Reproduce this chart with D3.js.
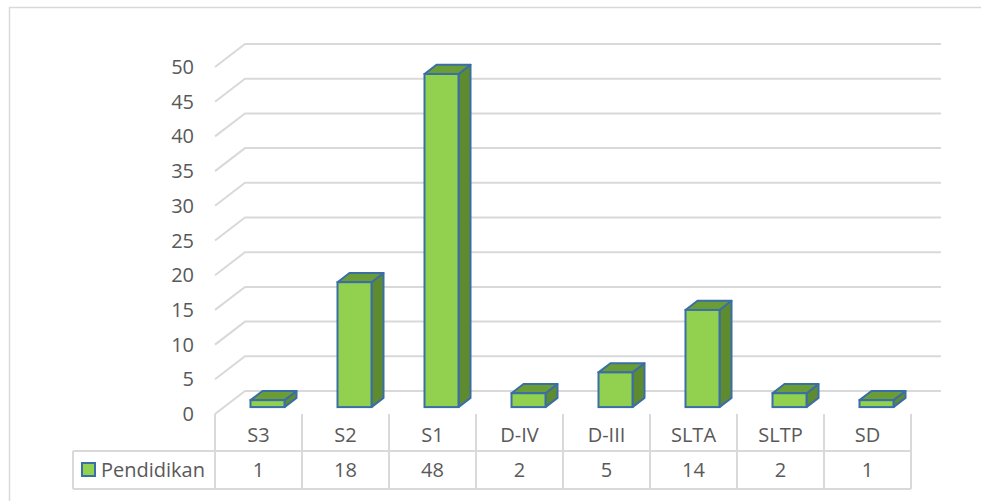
<!DOCTYPE html>
<html>
<head>
<meta charset="utf-8">
<script src="https://cdn.jsdelivr.net/npm/d3@7"></script>
<style>
  body { margin: 0; background: #ffffff; }
  text { font-family: "Open Sans", "Noto Sans", sans-serif; fill: #595959; }
</style>
</head>
<body>
<div id="chart"></div>
<script>
// data
var categories = ["S3", "S2", "S1", "D-IV", "D-III", "SLTA", "SLTP", "SD"];
var values = [1, 18, 48, 2, 5, 14, 2, 1];
var seriesName = "Pendidikan";
var yTicks = [0, 5, 10, 15, 20, 25, 30, 35, 40, 45, 50];

var vizWidth = 981,
    vizHeight = 501;

// plot area (front plane) and 3d depth vector
var plot = {left: 215, right: 911, top: 67, bottom: 414},
    depth = {dx: 30, dy: -23},
    barFront = 0.3,
    barBack = 0.7,
    barWidth = 34;

var colorFront = "#92d050",
    colorSide = "#5f8b30",
    colorTop = "#6b9d37",
    colorEdge = "#3a6ea5",
    colorGrid = "#d9d9d9";

var viz = d3.select(document.getElementById('chart')).append("svg")
    .attr("width", vizWidth)
    .attr("height", vizHeight);

// chart border
viz.append("rect")
    .attr("x", 9.5)
    .attr("y", 7.5)
    .attr("width", 990)
    .attr("height", 510)
    .attr("fill", "none")
    .attr("stroke", colorGrid)
    .attr("stroke-width", 1.5);

var x = d3.scaleBand().domain(categories).range([plot.left, plot.right]);
var y = d3.scaleLinear().domain([0, 50]).range([plot.bottom, plot.top]);

function px(xv, t) { return xv + depth.dx * t; }
function py(yv, t) { return yv + depth.dy * t; }

// gridlines: side diagonal + back wall
var grid = viz.append("g").attr("class", "grid");
yTicks.forEach(function(v) {
  grid.append("path")
      .attr("d", "M" + plot.left + "," + y(v) +
                 "L" + px(plot.left, 1) + "," + py(y(v), 1) +
                 "L" + px(plot.right, 1) + "," + py(y(v), 1))
      .attr("fill", "none")
      .attr("stroke", colorGrid)
      .attr("stroke-width", 2);
});

// y labels
viz.selectAll("text.ytick")
    .data(yTicks)
    .enter()
    .append("text")
    .attr("class", "ytick")
    .attr("x", 194)
    .attr("y", function(d) { return y(d); })
    .attr("dy", "0.35em")
    .attr("text-anchor", "end")
    .style("font-size", "20px")
    .text(function(d) { return d; });

// bars
var bars = viz.selectAll("g.bar")
    .data(categories.map(function(c, i) { return {cat: c, val: values[i]}; }))
    .enter()
    .append("g")
    .attr("class", "bar");

function barGeom(d) {
  var x0 = x(d.cat) + x.bandwidth() / 2 - barWidth / 2,
      x1 = x0 + barWidth,
      y0 = y(0),
      y1 = y(d.val);
  return {
    fl: px(x0, barFront), fr: px(x1, barFront),
    bl: px(x0, barBack), br: px(x1, barBack),
    fb: py(y0, barFront), ft: py(y1, barFront),
    bb: py(y0, barBack), bt: py(y1, barBack)
  };
}

bars.append("path")
    .attr("d", function(d) {
      var g = barGeom(d);
      return "M" + g.fr + "," + g.fb + "L" + g.br + "," + g.bb +
             "L" + g.br + "," + g.bt + "L" + g.fr + "," + g.ft + "Z";
    })
    .attr("fill", colorSide)
    .attr("stroke", colorEdge)
    .attr("stroke-width", 2)
    .attr("stroke-linejoin", "round");

bars.append("path")
    .attr("d", function(d) {
      var g = barGeom(d);
      return "M" + g.fl + "," + g.ft + "L" + g.bl + "," + g.bt +
             "L" + g.br + "," + g.bt + "L" + g.fr + "," + g.ft + "Z";
    })
    .attr("fill", colorTop)
    .attr("stroke", colorEdge)
    .attr("stroke-width", 2)
    .attr("stroke-linejoin", "round");

bars.append("rect")
    .attr("x", function(d) { return barGeom(d).fl; })
    .attr("y", function(d) { return barGeom(d).ft; })
    .attr("width", barWidth)
    .attr("height", function(d) { var g = barGeom(d); return g.fb - g.ft; })
    .attr("fill", colorFront)
    .attr("stroke", colorEdge)
    .attr("stroke-width", 2);

// data table under the plot
var row1 = plot.bottom,
    row2 = 451,
    row3 = 489,
    legendLeft = 73;

var table = viz.append("g").attr("class", "table")
    .attr("stroke", colorGrid)
    .attr("stroke-width", 2);

table.append("line")
    .attr("x1", legendLeft).attr("x2", plot.right)
    .attr("y1", row2).attr("y2", row2);
table.append("line")
    .attr("x1", legendLeft).attr("x2", plot.right)
    .attr("y1", row3).attr("y2", row3);
table.append("line")
    .attr("x1", legendLeft).attr("x2", legendLeft)
    .attr("y1", row2).attr("y2", row3);

var edges = categories.map(function(c) { return x(c); }).concat([plot.right]);
table.selectAll("line.sep")
    .data(edges)
    .enter()
    .append("line")
    .attr("class", "sep")
    .attr("x1", function(d) { return d; })
    .attr("x2", function(d) { return d; })
    .attr("y1", row1)
    .attr("y2", row3);

viz.selectAll("text.cat")
    .data(categories)
    .enter()
    .append("text")
    .attr("class", "cat")
    .attr("x", function(d) { return x(d) + x.bandwidth() / 2; })
    .attr("y", (row1 + row2) / 2 + 2)
    .attr("dy", "0.35em")
    .attr("text-anchor", "middle")
    .style("font-size", "20px")
    .text(function(d) { return d; });

viz.selectAll("text.val")
    .data(categories.map(function(c, i) { return {cat: c, val: values[i]}; }))
    .enter()
    .append("text")
    .attr("class", "val")
    .attr("x", function(d) { return x(d.cat) + x.bandwidth() / 2; })
    .attr("y", (row2 + row3) / 2)
    .attr("dy", "0.35em")
    .attr("text-anchor", "middle")
    .style("font-size", "20px")
    .text(function(d) { return d.val; });

// legend key in table
viz.append("rect")
    .attr("x", 82)
    .attr("y", 463)
    .attr("width", 13)
    .attr("height", 13)
    .attr("fill", colorFront)
    .attr("stroke", colorEdge)
    .attr("stroke-width", 2);

viz.append("text")
    .attr("x", 101)
    .attr("y", (row2 + row3) / 2)
    .attr("dy", "0.35em")
    .style("font-size", "20px")
    .text(seriesName);
</script>
</body>
</html>
